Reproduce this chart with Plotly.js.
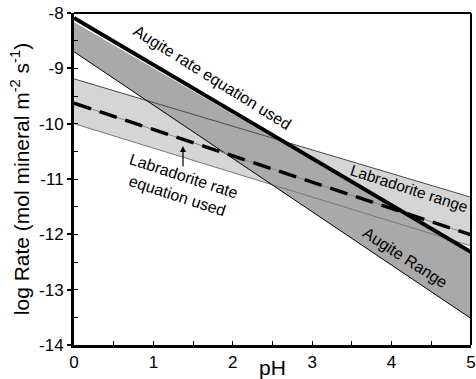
<!DOCTYPE html>
<html>
<head>
<meta charset="utf-8">
<script src="https://cdn.plot.ly/plotly-3.0.1.min.js"></script>
<style>html,body{margin:0;padding:0;background:#fff;}#chart{width:476px;height:379px;}</style>
</head>
<body>
<div id="chart"></div>
<script>
// pH end points
var pH = [0, 5];
// log rate values at pH 0 and pH 5
var augiteRateUsed = [-8.09, -12.32];
var augiteUpper = [-8.155, -12.32];
var augiteLower = [-8.70, -13.52];
var labUpper = [-9.19, -11.33];
var labLower = [-10.0, -12.21];
var labRateUsed = [-9.63, -12.01];
var xTicks = [0, 1, 2, 3, 4, 5];
var yTicks = [-14, -13, -12, -11, -10, -9, -8];

function poly(up, lo) {
  return {
    x: [pH[0], pH[1], pH[1], pH[0], pH[0]],
    y: [up[0], up[1], lo[1], lo[0], up[0]]
  };
}
var lp = poly(labUpper, labLower);
var ap = poly(augiteUpper, augiteLower);

var traces = [
  {x: lp.x, y: lp.y, type: 'scatter', mode: 'lines', fill: 'toself', fillcolor: '#d5d5d5', line: {width: 0}, hoverinfo: 'skip'},
  {x: ap.x, y: ap.y, type: 'scatter', mode: 'lines', fill: 'toself', fillcolor: '#a9a9a9', line: {width: 0}, hoverinfo: 'skip'},
  {x: pH, y: augiteUpper, type: 'scatter', mode: 'lines', line: {color: '#ffffff', width: 1}},
  {x: pH, y: labUpper, type: 'scatter', mode: 'lines', line: {color: '#4a4a4a', width: 1}},
  {x: pH, y: labLower, type: 'scatter', mode: 'lines', line: {color: '#777777', width: 1}},
  {x: pH, y: augiteLower, type: 'scatter', mode: 'lines', line: {color: '#000000', width: 1}},
  {x: pH, y: labRateUsed, type: 'scatter', mode: 'lines', line: {color: '#888888', width: 1}},
  {x: pH, y: labRateUsed, type: 'scatter', mode: 'lines', line: {color: '#000000', width: 3.5, dash: '18px,9px'}},
  {x: pH, y: augiteRateUsed, type: 'scatter', mode: 'lines', line: {color: '#000000', width: 3.8}}
];

var fnt = 'Liberation Sans, Arial, sans-serif';
var layout = {
  width: 476, height: 379,
  margin: {l: 74, r: 5, t: 13, b: 34},
  paper_bgcolor: '#ffffff', plot_bgcolor: '#ffffff',
  showlegend: false,
  font: {family: fnt, color: '#000', size: 16},
  xaxis: {
    range: [0, 5], tickvals: xTicks, ticktext: xTicks.map(String),
    showgrid: false, zeroline: false, showline: true, linewidth: 3, linecolor: '#000',
    ticks: 'inside', ticklen: 4, tickwidth: 1, tickcolor: '#000',
    minor: {dtick: 0.5, ticks: 'inside', ticklen: 4, tickwidth: 1, tickcolor: '#000'},
    tickfont: {size: 17, family: fnt},
    title: {text: 'pH', font: {size: 21, family: fnt}, standoff: 2}
  },
  yaxis: {
    range: [-14, -8], tickvals: yTicks, ticktext: yTicks.map(String),
    showgrid: false, zeroline: false, showline: true, linewidth: 3, linecolor: '#000',
    ticks: 'outside', ticklen: 4, tickwidth: 2, tickcolor: '#000',
    minor: {dtick: 0.5, ticks: 'inside', ticklen: 4, tickwidth: 1, tickcolor: '#000'},
    tickfont: {size: 17, family: fnt},
    title: {text: 'log Rate (mol mineral m<sup>-2</sup> s<sup>-1</sup>)', font: {size: 21, family: fnt}, standoff: 4}
  },
  shapes: [
    {type: 'line', xref: 'paper', yref: 'paper', x0: 0, x1: 1, y0: 1, y1: 1, line: {color: '#000', width: 2}},
    {type: 'line', xref: 'paper', yref: 'paper', x0: 1, x1: 1, y0: 0, y1: 1, line: {color: '#000', width: 2}}
  ],
  annotations: [
    {x: 1.74, y: -9.17, text: 'Augite rate equation used', showarrow: false, textangle: 32, font: {size: 16, family: fnt}},
    {x: 4.22, y: -11.17, text: 'Labradorite range', showarrow: false, textangle: 18, font: {size: 15.5, family: fnt}},
    {x: 4.17, y: -12.41, text: 'Augite Range', showarrow: false, textangle: 33, font: {size: 16, family: fnt}},
    {x: 1.34, y: -11.13, text: 'Labradorite rate<br>equation used', showarrow: false, textangle: 18, font: {size: 16, family: fnt}},
    {x: 1.373, y: -10.405, ax: 0, ay: 22, text: '', showarrow: true, arrowhead: 2, arrowsize: 1, arrowwidth: 1.2, arrowcolor: '#000'}
  ]
};

Plotly.newPlot('chart', traces, layout, {staticPlot: true, displayModeBar: false});
</script>
</body>
</html>
